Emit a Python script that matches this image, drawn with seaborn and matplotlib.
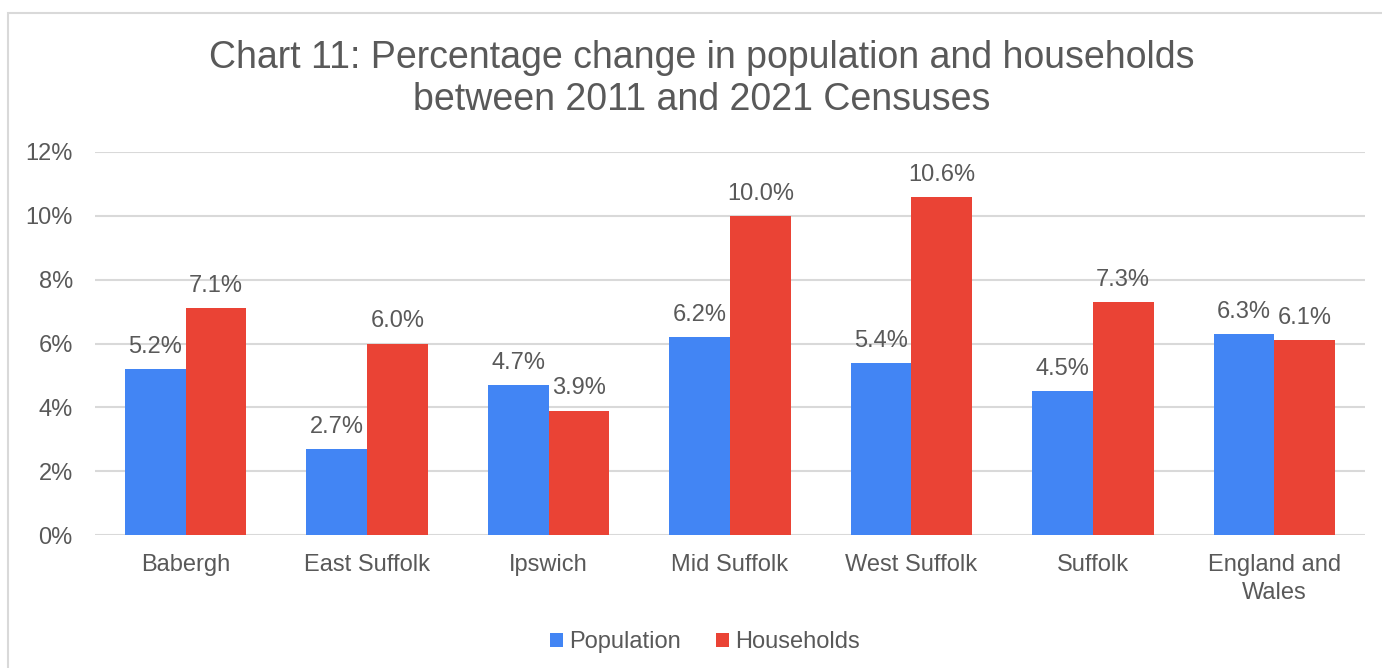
import pandas as pd
import seaborn as sns
import matplotlib.pyplot as plt
from matplotlib.patches import Patch, Rectangle

# values
areas = ['Babergh', 'East Suffolk', 'Ipswich', 'Mid Suffolk', 'West Suffolk',
         'Suffolk', 'England and\nWales']
population = [5.2, 2.7, 4.7, 6.2, 5.4, 4.5, 6.3]
households = [7.1, 6.0, 3.9, 10.0, 10.6, 7.3, 6.1]
series = ['Population', 'Households']
colours = ['#4285F4', '#EA4335']
yticks = [0, 2, 4, 6, 8, 10, 12]

df = pd.DataFrame({'area': areas * 2,
                   'series': [series[0]] * len(areas) + [series[1]] * len(areas),
                   'value': population + households})

sns.set_theme(style='white')
plt.rcParams['font.family'] = ['Liberation Sans', 'DejaVu Sans']
text_col = '#595959'
grid_col = '#d9d9d9'
fs = 17

fig = plt.figure(figsize=(13.82, 6.68), dpi=100)
ax = fig.add_axes([95 / 1382, 1 - 535 / 668, 1270 / 1382, 383 / 668])

sns.barplot(data=df, x='area', y='value', hue='series', hue_order=series,
            palette=colours, width=0.67, linewidth=0, saturation=1,
            legend=False, ax=ax, zorder=3)

# data labels above each bar
for container in ax.containers:
    ax.bar_label(container, labels=[f'{v:.1f}%' for v in container.datavalues],
                 padding=8, fontsize=fs, color=text_col)

ax.set_ylim(0, 12)
ax.set_yticks(yticks)
ax.set_yticklabels([f'{t}%' for t in yticks])
ax.set_xlim(-0.5, len(areas) - 0.5)
ax.set_xlabel('')
ax.set_ylabel('')
ax.yaxis.grid(True, color=grid_col, linewidth=1.5, zorder=0)
ax.set_axisbelow(True)
for s in ax.spines.values():
    s.set_visible(False)
ax.tick_params(axis='y', length=0, pad=16, labelsize=fs, labelcolor=text_col)
ax.tick_params(axis='x', length=0, pad=14, labelsize=fs, labelcolor=text_col)
for lab in ax.get_xticklabels():
    lab.set_linespacing(1.35)

fig.text(702 / 1382, 1 - 79 / 668,
         'Chart 11: Percentage change in population and households\nbetween 2011 and 2021 Censuses',
         ha='center', va='center', fontsize=27, color=text_col, linespacing=1.25)

handles = [Patch(facecolor=c, edgecolor='none', label=s) for c, s in zip(colours, series)]
fig.legend(handles=handles, loc='center', bbox_to_anchor=(705 / 1382, 1 - 642 / 668),
           ncol=2, frameon=False, fontsize=fs, labelcolor=text_col,
           handlelength=0.55, handleheight=0.55, handletextpad=0.25, columnspacing=1.5)

# light chart border, cut by the image edge on the right and bottom
fig.patches.append(Rectangle((8 / 1382, -0.1), 1.2, 1.1 - 13 / 668,
                             transform=fig.transFigure, fill=False,
                             edgecolor=grid_col, linewidth=1.5))

fig.savefig('out.png', dpi=100)
